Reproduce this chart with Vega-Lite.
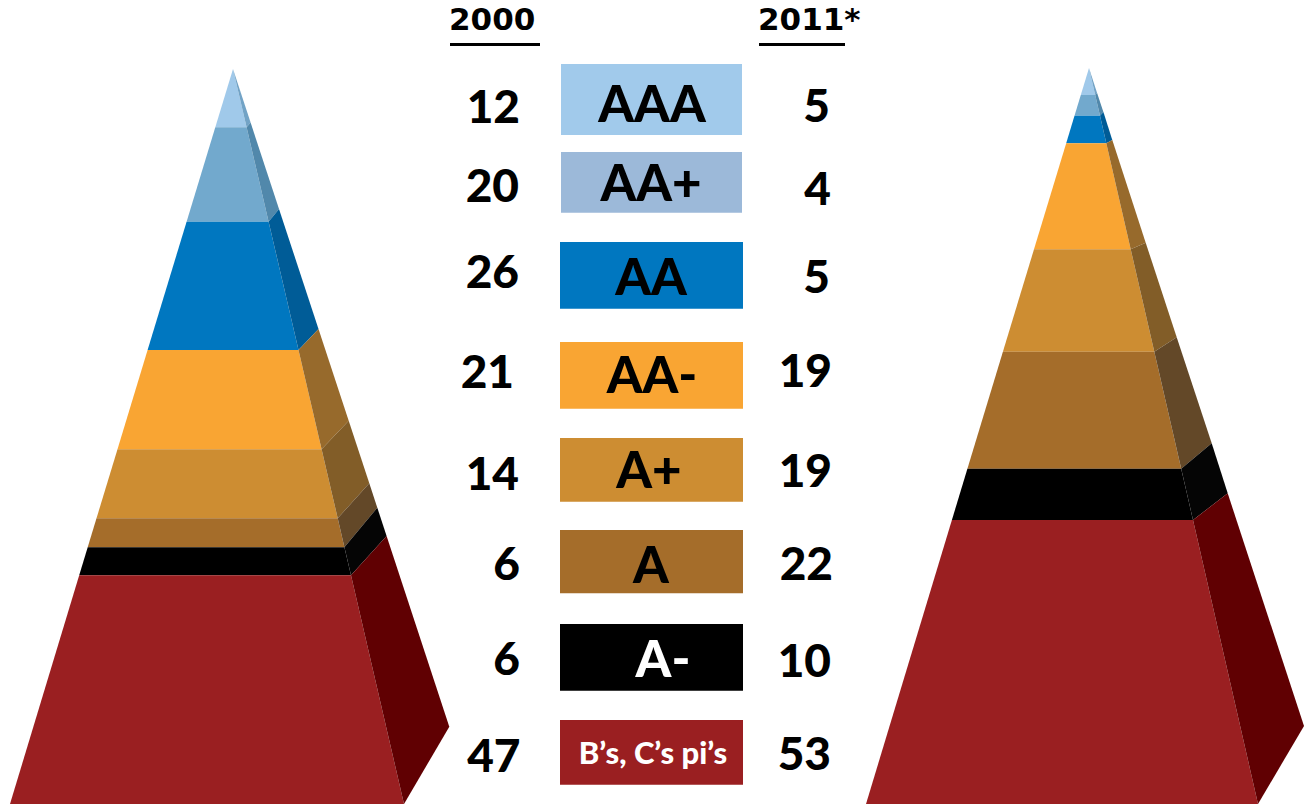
{
  "$schema": "https://vega.github.io/schema/vega-lite/v6.json",
  "width": 1304,
  "height": 804,
  "autosize": {"type": "fit", "contains": "padding"},
  "padding": 0,
  "background": "white",
  "config": {"view": {"stroke": null}},
  "datasets": {
    "poly": [
      {"pyr": "2000", "part": "AAA|front", "k": 0, "x": 233, "y": 69},
      {"pyr": "2000", "part": "AAA|front", "k": 1, "x": 246.6, "y": 127.3},
      {"pyr": "2000", "part": "AAA|front", "k": 2, "x": 215.3, "y": 127.3},
      {"pyr": "2000", "part": "AA+|front", "k": 0, "x": 215.3, "y": 127.3},
      {"pyr": "2000", "part": "AA+|front", "k": 1, "x": 246.6, "y": 127.3},
      {"pyr": "2000", "part": "AA+|front", "k": 2, "x": 268.6, "y": 221.7},
      {"pyr": "2000", "part": "AA+|front", "k": 3, "x": 186.6, "y": 221.7},
      {"pyr": "2000", "part": "AA|front", "k": 0, "x": 186.6, "y": 221.7},
      {"pyr": "2000", "part": "AA|front", "k": 1, "x": 268.6, "y": 221.7},
      {"pyr": "2000", "part": "AA|front", "k": 2, "x": 298.5, "y": 350},
      {"pyr": "2000", "part": "AA|front", "k": 3, "x": 147.6, "y": 350},
      {"pyr": "2000", "part": "AA-|front", "k": 0, "x": 147.6, "y": 350},
      {"pyr": "2000", "part": "AA-|front", "k": 1, "x": 298.5, "y": 350},
      {"pyr": "2000", "part": "AA-|front", "k": 2, "x": 321.6, "y": 449.3},
      {"pyr": "2000", "part": "AA-|front", "k": 3, "x": 117.5, "y": 449.3},
      {"pyr": "2000", "part": "A+|front", "k": 0, "x": 117.5, "y": 449.3},
      {"pyr": "2000", "part": "A+|front", "k": 1, "x": 321.6, "y": 449.3},
      {"pyr": "2000", "part": "A+|front", "k": 2, "x": 337.7, "y": 518.3},
      {"pyr": "2000", "part": "A+|front", "k": 3, "x": 96.5, "y": 518.3},
      {"pyr": "2000", "part": "A|front", "k": 0, "x": 96.5, "y": 518.3},
      {"pyr": "2000", "part": "A|front", "k": 1, "x": 337.7, "y": 518.3},
      {"pyr": "2000", "part": "A|front", "k": 2, "x": 344.4, "y": 547.3},
      {"pyr": "2000", "part": "A|front", "k": 3, "x": 87.7, "y": 547.3},
      {"pyr": "2000", "part": "A-|front", "k": 0, "x": 87.7, "y": 547.3},
      {"pyr": "2000", "part": "A-|front", "k": 1, "x": 344.4, "y": 547.3},
      {"pyr": "2000", "part": "A-|front", "k": 2, "x": 351, "y": 575.3},
      {"pyr": "2000", "part": "A-|front", "k": 3, "x": 79.2, "y": 575.3},
      {"pyr": "2000", "part": "B|front", "k": 0, "x": 79.2, "y": 575.3},
      {"pyr": "2000", "part": "B|front", "k": 1, "x": 351, "y": 575.3},
      {"pyr": "2000", "part": "B|front", "k": 2, "x": 404, "y": 804},
      {"pyr": "2000", "part": "B|front", "k": 3, "x": 10, "y": 804},
      {"pyr": "2000", "part": "AAA|side", "k": 0, "x": 233, "y": 69},
      {"pyr": "2000", "part": "AAA|side", "k": 1, "x": 250.6, "y": 122.6},
      {"pyr": "2000", "part": "AAA|side", "k": 2, "x": 246.6, "y": 127.3},
      {"pyr": "2000", "part": "AA+|side", "k": 0, "x": 246.6, "y": 127.3},
      {"pyr": "2000", "part": "AA+|side", "k": 1, "x": 250.6, "y": 122.6},
      {"pyr": "2000", "part": "AA+|side", "k": 2, "x": 279, "y": 209},
      {"pyr": "2000", "part": "AA+|side", "k": 3, "x": 268.6, "y": 221.7},
      {"pyr": "2000", "part": "AA|side", "k": 0, "x": 268.6, "y": 221.7},
      {"pyr": "2000", "part": "AA|side", "k": 1, "x": 279, "y": 209},
      {"pyr": "2000", "part": "AA|side", "k": 2, "x": 318.5, "y": 329},
      {"pyr": "2000", "part": "AA|side", "k": 3, "x": 298.5, "y": 350},
      {"pyr": "2000", "part": "AA-|side", "k": 0, "x": 298.5, "y": 350},
      {"pyr": "2000", "part": "AA-|side", "k": 1, "x": 318.5, "y": 329},
      {"pyr": "2000", "part": "AA-|side", "k": 2, "x": 348.7, "y": 420.7},
      {"pyr": "2000", "part": "AA-|side", "k": 3, "x": 321.6, "y": 449.3},
      {"pyr": "2000", "part": "A+|side", "k": 0, "x": 321.6, "y": 449.3},
      {"pyr": "2000", "part": "A+|side", "k": 1, "x": 348.7, "y": 420.7},
      {"pyr": "2000", "part": "A+|side", "k": 2, "x": 369.3, "y": 483.3},
      {"pyr": "2000", "part": "A+|side", "k": 3, "x": 337.7, "y": 518.3},
      {"pyr": "2000", "part": "A|side", "k": 0, "x": 337.7, "y": 518.3},
      {"pyr": "2000", "part": "A|side", "k": 1, "x": 369.3, "y": 483.3},
      {"pyr": "2000", "part": "A|side", "k": 2, "x": 377.3, "y": 507.7},
      {"pyr": "2000", "part": "A|side", "k": 3, "x": 344.4, "y": 547.3},
      {"pyr": "2000", "part": "A-|side", "k": 0, "x": 344.4, "y": 547.3},
      {"pyr": "2000", "part": "A-|side", "k": 1, "x": 377.3, "y": 507.7},
      {"pyr": "2000", "part": "A-|side", "k": 2, "x": 386.6, "y": 536},
      {"pyr": "2000", "part": "A-|side", "k": 3, "x": 351, "y": 575.3},
      {"pyr": "2000", "part": "B|side", "k": 0, "x": 351, "y": 575.3},
      {"pyr": "2000", "part": "B|side", "k": 1, "x": 386.6, "y": 536},
      {"pyr": "2000", "part": "B|side", "k": 2, "x": 449.3, "y": 726.7},
      {"pyr": "2000", "part": "B|side", "k": 3, "x": 404, "y": 804},

      {"pyr": "2011", "part": "AAA|front", "k": 0, "x": 1089, "y": 68},
      {"pyr": "2011", "part": "AAA|front", "k": 1, "x": 1095.2, "y": 95},
      {"pyr": "2011", "part": "AAA|front", "k": 2, "x": 1080.8, "y": 95},
      {"pyr": "2011", "part": "AA+|front", "k": 0, "x": 1080.8, "y": 95},
      {"pyr": "2011", "part": "AA+|front", "k": 1, "x": 1095.2, "y": 95},
      {"pyr": "2011", "part": "AA+|front", "k": 2, "x": 1100, "y": 115.7},
      {"pyr": "2011", "part": "AA+|front", "k": 3, "x": 1074.5, "y": 115.7},
      {"pyr": "2011", "part": "AA|front", "k": 0, "x": 1074.5, "y": 115.7},
      {"pyr": "2011", "part": "AA|front", "k": 1, "x": 1100, "y": 115.7},
      {"pyr": "2011", "part": "AA|front", "k": 2, "x": 1106.3, "y": 143.3},
      {"pyr": "2011", "part": "AA|front", "k": 3, "x": 1066.2, "y": 143.3},
      {"pyr": "2011", "part": "AA-|front", "k": 0, "x": 1066.2, "y": 143.3},
      {"pyr": "2011", "part": "AA-|front", "k": 1, "x": 1106.3, "y": 143.3},
      {"pyr": "2011", "part": "AA-|front", "k": 2, "x": 1130.7, "y": 249.3},
      {"pyr": "2011", "part": "AA-|front", "k": 3, "x": 1034, "y": 249.3},
      {"pyr": "2011", "part": "A+|front", "k": 0, "x": 1034, "y": 249.3},
      {"pyr": "2011", "part": "A+|front", "k": 1, "x": 1130.7, "y": 249.3},
      {"pyr": "2011", "part": "A+|front", "k": 2, "x": 1154.3, "y": 351.7},
      {"pyr": "2011", "part": "A+|front", "k": 3, "x": 1002.9, "y": 351.7},
      {"pyr": "2011", "part": "A|front", "k": 0, "x": 1002.9, "y": 351.7},
      {"pyr": "2011", "part": "A|front", "k": 1, "x": 1154.3, "y": 351.7},
      {"pyr": "2011", "part": "A|front", "k": 2, "x": 1181.2, "y": 468.7},
      {"pyr": "2011", "part": "A|front", "k": 3, "x": 967.4, "y": 468.7},
      {"pyr": "2011", "part": "A-|front", "k": 0, "x": 967.4, "y": 468.7},
      {"pyr": "2011", "part": "A-|front", "k": 1, "x": 1181.2, "y": 468.7},
      {"pyr": "2011", "part": "A-|front", "k": 2, "x": 1193, "y": 520},
      {"pyr": "2011", "part": "A-|front", "k": 3, "x": 951.9, "y": 520},
      {"pyr": "2011", "part": "B|front", "k": 0, "x": 951.9, "y": 520},
      {"pyr": "2011", "part": "B|front", "k": 1, "x": 1193, "y": 520},
      {"pyr": "2011", "part": "B|front", "k": 2, "x": 1258, "y": 804},
      {"pyr": "2011", "part": "B|front", "k": 3, "x": 866, "y": 804},
      {"pyr": "2011", "part": "AAA|side", "k": 0, "x": 1089, "y": 68},
      {"pyr": "2011", "part": "AAA|side", "k": 1, "x": 1097, "y": 92.8},
      {"pyr": "2011", "part": "AAA|side", "k": 2, "x": 1095.2, "y": 95},
      {"pyr": "2011", "part": "AA+|side", "k": 0, "x": 1095.2, "y": 95},
      {"pyr": "2011", "part": "AA+|side", "k": 1, "x": 1097, "y": 92.8},
      {"pyr": "2011", "part": "AA+|side", "k": 2, "x": 1103.4, "y": 111.9},
      {"pyr": "2011", "part": "AA+|side", "k": 3, "x": 1100, "y": 115.7},
      {"pyr": "2011", "part": "AA|side", "k": 0, "x": 1100, "y": 115.7},
      {"pyr": "2011", "part": "AA|side", "k": 1, "x": 1103.4, "y": 111.9},
      {"pyr": "2011", "part": "AA|side", "k": 2, "x": 1112.3, "y": 140},
      {"pyr": "2011", "part": "AA|side", "k": 3, "x": 1106.3, "y": 143.3},
      {"pyr": "2011", "part": "AA-|side", "k": 0, "x": 1106.3, "y": 143.3},
      {"pyr": "2011", "part": "AA-|side", "k": 1, "x": 1112.3, "y": 140},
      {"pyr": "2011", "part": "AA-|side", "k": 2, "x": 1145.7, "y": 242.7},
      {"pyr": "2011", "part": "AA-|side", "k": 3, "x": 1130.7, "y": 249.3},
      {"pyr": "2011", "part": "A+|side", "k": 0, "x": 1130.7, "y": 249.3},
      {"pyr": "2011", "part": "A+|side", "k": 1, "x": 1145.7, "y": 242.7},
      {"pyr": "2011", "part": "A+|side", "k": 2, "x": 1176.7, "y": 337.3},
      {"pyr": "2011", "part": "A+|side", "k": 3, "x": 1154.3, "y": 351.7},
      {"pyr": "2011", "part": "A|side", "k": 0, "x": 1154.3, "y": 351.7},
      {"pyr": "2011", "part": "A|side", "k": 1, "x": 1176.7, "y": 337.3},
      {"pyr": "2011", "part": "A|side", "k": 2, "x": 1211.7, "y": 443.3},
      {"pyr": "2011", "part": "A|side", "k": 3, "x": 1181.2, "y": 468.7},
      {"pyr": "2011", "part": "A-|side", "k": 0, "x": 1181.2, "y": 468.7},
      {"pyr": "2011", "part": "A-|side", "k": 1, "x": 1211.7, "y": 443.3},
      {"pyr": "2011", "part": "A-|side", "k": 2, "x": 1227.7, "y": 493.3},
      {"pyr": "2011", "part": "A-|side", "k": 3, "x": 1193, "y": 520},
      {"pyr": "2011", "part": "B|side", "k": 0, "x": 1193, "y": 520},
      {"pyr": "2011", "part": "B|side", "k": 1, "x": 1227.7, "y": 493.3},
      {"pyr": "2011", "part": "B|side", "k": 2, "x": 1304, "y": 726},
      {"pyr": "2011", "part": "B|side", "k": 3, "x": 1258, "y": 804}
    ],
    "boxes": [
      {"band": "AAA", "label": "AAA", "x1": 561, "x2": 742, "y1": 64, "y2": 135, "lx": 652, "ly": 121.7},
      {"band": "AA+", "label": "AA+", "x1": 561, "x2": 742, "y1": 152, "y2": 212.7, "lx": 651, "ly": 200.7},
      {"band": "AA", "label": "AA", "x1": 560, "x2": 743, "y1": 242, "y2": 308.7, "lx": 651, "ly": 295},
      {"band": "AA-", "label": "AA-", "x1": 560, "x2": 743, "y1": 342, "y2": 408.7, "lx": 652, "ly": 392.7},
      {"band": "A+", "label": "A+", "x1": 560, "x2": 743, "y1": 438, "y2": 501.7, "lx": 649, "ly": 487.7},
      {"band": "A", "label": "A", "x1": 560, "x2": 743, "y1": 530, "y2": 593.3, "lx": 651, "ly": 582.7},
      {"band": "A-", "label": "A-", "x1": 560, "x2": 743, "y1": 624, "y2": 690.7, "lx": 663, "ly": 677.3},
      {"band": "B", "label": "B’s, C’s pi’s", "x1": 560, "x2": 743, "y1": 720, "y2": 784.7, "lx": 653, "ly": 764}
    ],
    "nums": [
      {"band": "AAA", "year": "2000", "v": "12", "x": 520, "y": 123.3},
      {"band": "AA+", "year": "2000", "v": "20", "x": 519, "y": 201.7},
      {"band": "AA", "year": "2000", "v": "26", "x": 519, "y": 288},
      {"band": "AA-", "year": "2000", "v": "21", "x": 514, "y": 388.3},
      {"band": "A+", "year": "2000", "v": "14", "x": 519, "y": 490},
      {"band": "A", "year": "2000", "v": "6", "x": 520, "y": 580},
      {"band": "A-", "year": "2000", "v": "6", "x": 520, "y": 675},
      {"band": "B", "year": "2000", "v": "47", "x": 520.5, "y": 771.7},
      {"band": "AAA", "year": "2011", "v": "5", "x": 830, "y": 121.7},
      {"band": "AA+", "year": "2011", "v": "4", "x": 831, "y": 205},
      {"band": "AA", "year": "2011", "v": "5", "x": 830, "y": 293},
      {"band": "AA-", "year": "2011", "v": "19", "x": 832, "y": 386.7},
      {"band": "A+", "year": "2011", "v": "19", "x": 832, "y": 486.7},
      {"band": "A", "year": "2011", "v": "22", "x": 833, "y": 580},
      {"band": "A-", "year": "2011", "v": "10", "x": 831, "y": 677},
      {"band": "B", "year": "2011", "v": "53", "x": 831, "y": 770}
    ],
    "heads": [
      {"t": "2000", "x": 449, "y": 29.5, "u1": 450, "u2": 540, "uy": 44.6},
      {"t": "2011*", "x": 758, "y": 29.5, "u1": 759, "u2": 845, "uy": 44.6}
    ]
  },
  "layer": [
    {
      "data": {"name": "poly"},
      "mark": {"type": "line", "filled": true},
      "encoding": {
        "x": {"field": "x", "type": "quantitative", "scale": {"domain": [0, 1304], "nice": false, "zero": false}, "axis": null},
        "y": {"field": "y", "type": "quantitative", "scale": {"domain": [0, 804], "nice": false, "zero": false, "reverse": true}, "axis": null},
        "color": {
          "field": "part", "type": "nominal", "legend": null,
          "scale": {
            "domain": ["AAA|front", "AAA|side", "AA+|front", "AA+|side", "AA|front", "AA|side", "AA-|front", "AA-|side", "A+|front", "A+|side", "A|front", "A|side", "A-|front", "A-|side", "B|front", "B|side"],
            "range": ["#A0C9EA", "#72A3C6", "#72A9CD", "#5188AB", "#0077C0", "#005C97", "#F9A533", "#976A2C", "#CD8D32", "#825D28", "#A56D2A", "#634828", "#000000", "#050505", "#9A1F21", "#600002"]
          }
        },
        "detail": {"field": "pyr"},
        "order": {"field": "k", "type": "quantitative"}
      }
    },
    {
      "data": {"name": "boxes"},
      "mark": {"type": "rect"},
      "encoding": {
        "x": {"field": "x1", "type": "quantitative", "scale": {"domain": [0, 1304], "nice": false, "zero": false}, "axis": null},
        "x2": {"field": "x2"},
        "y": {"field": "y1", "type": "quantitative", "scale": {"domain": [0, 804], "nice": false, "zero": false, "reverse": true}, "axis": null},
        "y2": {"field": "y2"},
        "fill": {
          "field": "band", "type": "nominal", "legend": null,
          "scale": {
            "domain": ["AAA", "AA+", "AA", "AA-", "A+", "A", "A-", "B"],
            "range": ["#A1CAEB", "#9CB9D9", "#0077C0", "#F9A533", "#CD8D32", "#A56D2A", "#000000", "#9A1F21"]
          }
        }
      }
    },
    {
      "data": {"name": "boxes"},
      "transform": [{"filter": "datum.band !== 'A-' && datum.band !== 'B'"}],
      "mark": {"type": "text", "font": "Lato", "fontWeight": 900, "fontSize": 51, "align": "center", "baseline": "alphabetic", "color": "#000000"},
      "encoding": {
        "x": {"field": "lx", "type": "quantitative", "scale": {"domain": [0, 1304], "nice": false, "zero": false}, "axis": null},
        "y": {"field": "ly", "type": "quantitative", "scale": {"domain": [0, 804], "nice": false, "zero": false, "reverse": true}, "axis": null},
        "text": {"field": "label"}
      }
    },
    {
      "data": {"name": "boxes"},
      "transform": [{"filter": "datum.band === 'A-'"}],
      "mark": {"type": "text", "font": "Lato", "fontWeight": 900, "fontSize": 51, "align": "center", "baseline": "alphabetic", "color": "#FFFFFF"},
      "encoding": {
        "x": {"field": "lx", "type": "quantitative", "scale": {"domain": [0, 1304], "nice": false, "zero": false}, "axis": null},
        "y": {"field": "ly", "type": "quantitative", "scale": {"domain": [0, 804], "nice": false, "zero": false, "reverse": true}, "axis": null},
        "text": {"field": "label"}
      }
    },
    {
      "data": {"name": "boxes"},
      "transform": [{"filter": "datum.band === 'B'"}],
      "mark": {"type": "text", "font": "Lato", "fontWeight": 900, "fontSize": 31, "align": "center", "baseline": "alphabetic", "color": "#FFFFFF"},
      "encoding": {
        "x": {"field": "lx", "type": "quantitative", "scale": {"domain": [0, 1304], "nice": false, "zero": false}, "axis": null},
        "y": {"field": "ly", "type": "quantitative", "scale": {"domain": [0, 804], "nice": false, "zero": false, "reverse": true}, "axis": null},
        "text": {"field": "label"}
      }
    },
    {
      "data": {"name": "nums"},
      "mark": {"type": "text", "font": "Lato", "fontWeight": 900, "fontSize": 46, "align": "right", "baseline": "alphabetic", "color": "#000000"},
      "encoding": {
        "x": {"field": "x", "type": "quantitative", "scale": {"domain": [0, 1304], "nice": false, "zero": false}, "axis": null},
        "y": {"field": "y", "type": "quantitative", "scale": {"domain": [0, 804], "nice": false, "zero": false, "reverse": true}, "axis": null},
        "text": {"field": "v"}
      }
    },
    {
      "data": {"name": "heads"},
      "mark": {"type": "text", "font": "DejaVu Sans", "fontWeight": "bold", "fontSize": 31, "align": "left", "baseline": "alphabetic", "color": "#000000"},
      "encoding": {
        "x": {"field": "x", "type": "quantitative", "scale": {"domain": [0, 1304], "nice": false, "zero": false}, "axis": null},
        "y": {"field": "y", "type": "quantitative", "scale": {"domain": [0, 804], "nice": false, "zero": false, "reverse": true}, "axis": null},
        "text": {"field": "t"}
      }
    },
    {
      "data": {"name": "heads"},
      "mark": {"type": "rule", "strokeWidth": 3, "color": "#000000"},
      "encoding": {
        "x": {"field": "u1", "type": "quantitative", "scale": {"domain": [0, 1304], "nice": false, "zero": false}, "axis": null},
        "x2": {"field": "u2"},
        "y": {"field": "uy", "type": "quantitative", "scale": {"domain": [0, 804], "nice": false, "zero": false, "reverse": true}, "axis": null}
      }
    }
  ],
  "resolve": {"scale": {"color": "independent", "fill": "independent"}}
}
